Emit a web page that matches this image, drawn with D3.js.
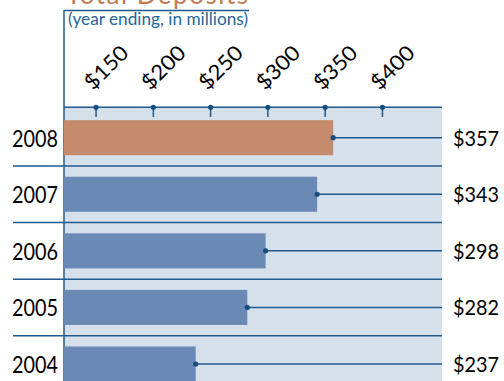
<!DOCTYPE html>
<html><head><meta charset="utf-8">
<script src="https://cdn.jsdelivr.net/npm/d3@7"></script>
<style>html,body{margin:0;padding:0;background:#fff;}svg{display:block;}</style>
</head><body>
<script>
const years = ["2008","2007","2006","2005","2004"];
const deposits = [357, 343, 298, 282, 237];
const tickValues = [150, 200, 250, 300, 350, 400];
const titleText = "Total Deposits";
const subtitleText = "(year ending, in millions)";

const W = 504, H = 381;
const font = "Lato, 'Open Sans', sans-serif";
const lineColor = "#1f5a8c";

const svg = d3.select("body").append("svg").attr("width", W).attr("height", H);

const x = d3.scaleLinear().domain([122, 452]).range([64, 442]);
const y = d3.scaleBand().domain(years).range([109.4, 392.3]).paddingInner(0.38).paddingOuter(0.19);
const step = y.step();

// panel background
svg.append("rect").attr("x", 64).attr("y", 107).attr("width", 442 - 64).attr("height", H - 107).attr("fill", "#d6e0eb");

// title (cut at the top edge, as in the original)
svg.append("text").attr("x", 66).attr("y", 3.5).attr("font-family", font).attr("font-size", 26)
  .attr("fill", "#c27b52").attr("textLength", 182).text(titleText);
svg.append("text").attr("x", 68).attr("y", 25).attr("font-family", font).attr("font-size", 17)
  .attr("fill", "#236796").attr("textLength", 180).attr("lengthAdjust", "spacingAndGlyphs").text(subtitleText);

// frame
svg.append("line").attr("x1", 64).attr("x2", 249).attr("y1", 10.5).attr("y2", 10.5).attr("stroke", lineColor).attr("stroke-width", 1.5);
svg.append("line").attr("x1", 64).attr("x2", 64).attr("y1", 10).attr("y2", H).attr("stroke", lineColor).attr("stroke-width", 1.5);

// row separators
years.slice(1).forEach(yr => {
  const yy = y(yr) - y.paddingInner() * step / 2;
  svg.append("line").attr("x1", 13).attr("x2", 442).attr("y1", yy).attr("y2", yy)
    .attr("stroke", lineColor).attr("stroke-width", 1.5);
});

// bars
const data = years.map((yr, i) => ({year: yr, value: deposits[i]}));
svg.selectAll("rect.bar").data(data).enter().append("rect").attr("class", "bar")
  .attr("x", x(122)).attr("y", d => y(d.year))
  .attr("width", d => x(d.value) - x(122)).attr("height", y.bandwidth())
  .attr("fill", (d, i) => i === 0 ? "#c48c6c" : "#6b89b5");

// leader lines and dots
svg.selectAll("line.lead").data(data).enter().append("line")
  .attr("x1", d => x(d.value)).attr("x2", 442)
  .attr("y1", d => y(d.year) + y.bandwidth() / 2).attr("y2", d => y(d.year) + y.bandwidth() / 2)
  .attr("stroke", lineColor).attr("stroke-width", 1.5);
svg.selectAll("circle.lead").data(data).enter().append("circle")
  .attr("cx", d => x(d.value)).attr("cy", d => y(d.year) + y.bandwidth() / 2).attr("r", 2.6)
  .attr("fill", "#174e80");

// top axis
const axisY = 107.3;
svg.append("line").attr("x1", 64).attr("x2", 442).attr("y1", axisY).attr("y2", axisY)
  .attr("stroke", lineColor).attr("stroke-width", 1.5);
const tg = svg.append("g");
tickValues.forEach(v => {
  tg.append("line").attr("x1", x(v)).attr("x2", x(v)).attr("y1", axisY).attr("y2", 117)
    .attr("stroke", lineColor).attr("stroke-width", 1.5);
  tg.append("circle").attr("cx", x(v)).attr("cy", axisY).attr("r", 2.6).attr("fill", "#174e80");
  tg.append("text").attr("transform", `translate(${x(v) - 3},${91}) rotate(-45)`)
    .attr("font-family", font).attr("font-size", 21).attr("fill", "#000")
    .attr("textLength", 52).attr("lengthAdjust", "spacingAndGlyphs").text("$" + v);
});

// year labels
svg.selectAll("text.year").data(data).enter().append("text")
  .attr("x", 58).attr("y", d => y(d.year) + y.bandwidth() / 2 + 9)
  .attr("text-anchor", "end").attr("font-family", font).attr("font-size", 23).attr("fill", "#000")
  .attr("textLength", 46).attr("lengthAdjust", "spacingAndGlyphs")
  .text(d => d.year);
// value labels
svg.selectAll("text.val").data(data).enter().append("text")
  .attr("x", 453).attr("y", d => y(d.year) + y.bandwidth() / 2 + 8)
  .attr("font-family", font).attr("font-size", 22).attr("fill", "#000")
  .attr("textLength", 46).attr("lengthAdjust", "spacingAndGlyphs")
  .text(d => "$" + d.value);
</script>
</body></html>
